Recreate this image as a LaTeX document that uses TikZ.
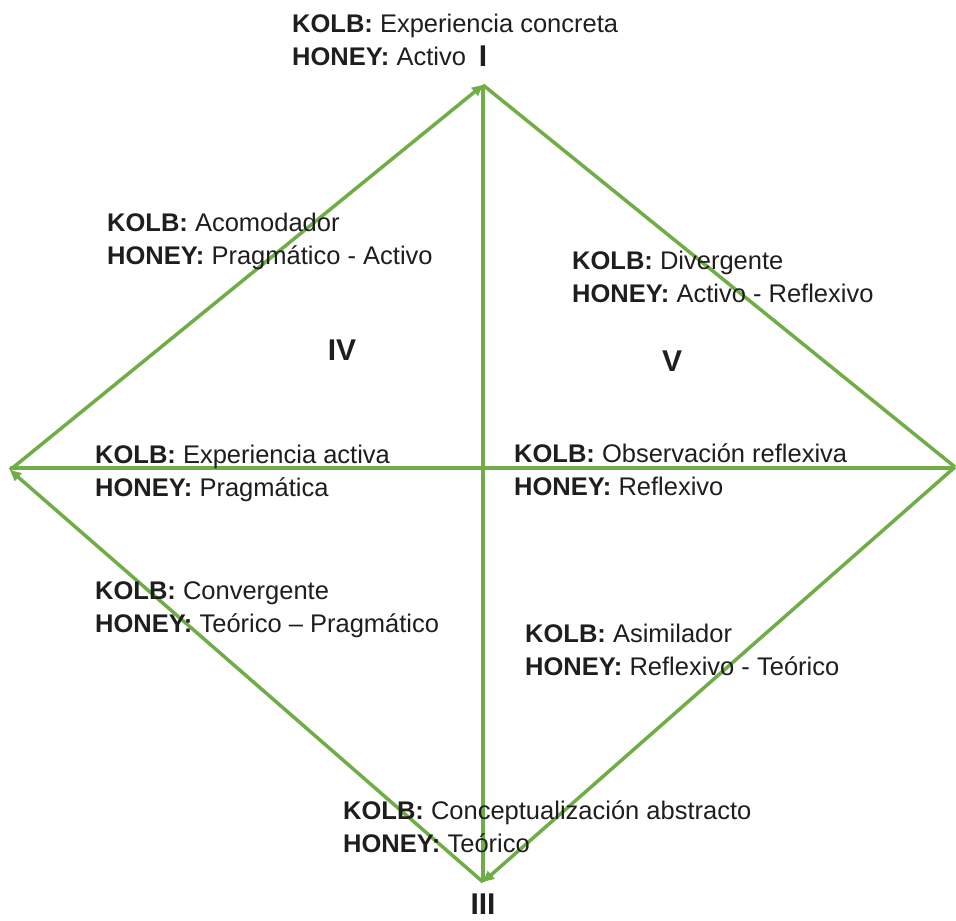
\documentclass[tikz,border=0pt]{standalone}
\usepackage{fontspec}
\setmainfont{Liberation Sans}
\usetikzlibrary{arrows.meta}
\definecolor{edgegreen}{HTML}{70AD47}
\definecolor{inkgray}{HTML}{1E1E1E}
\tikzset{
  edge/.style={draw=edgegreen, line width=3.5pt},
  tip/.style={-{Triangle[length=11pt,width=10pt]}},
  label/.style={anchor=west, align=left, inner sep=0pt, text=inkgray,
    font=\fontsize{25.5}{33}\selectfont},
  numeral/.style={inner sep=0pt, text=inkgray,
    font=\fontsize{30}{32}\selectfont\bfseries}
}
\newcommand{\kh}[2]{\textbf{KOLB:} #1\\\textbf{HONEY:} #2}
\begin{document}
\begin{tikzpicture}[x=1pt,y=-1pt]
\useasboundingbox (0,0) rectangle (956,921);
% corners of the diamond
\coordinate (top) at (483,85);
\coordinate (left) at (10,470);
\coordinate (bottom) at (483,882);
\coordinate (right) at (955,467);
\coordinate (hleft) at (10,468);
\coordinate (hright) at (955,468);

% outline of the cycle
\draw[edge] (top) -- (right);
\draw[edge,tip] (right) -- (bottom);
\draw[edge,tip] (bottom) -- (left);
\draw[edge,tip] (left) -- (top);
% axes
\draw[edge] (bottom) -- (top);
\draw[edge] (hright) -- (hleft);

% labels
\node[label] (lI) at (292,40) {\kh{Experiencia concreta}{Activo}};
\node[numeral] (nI) at (483,56) {I};
\node[label] (lIV) at (107,241) {\kh{Acomodador}{Pragmático - Activo}};
\node[label] (lV) at (572,277) {\kh{Divergente}{Activo - Reflexivo}};
\node[numeral] (nIV) at (342,350) {IV};
\node[numeral] (nV) at (672,361) {V};
\node[label] (lW) at (95,473) {\kh{Experiencia activa}{Pragmática}};
\node[label] (lE) at (514,470) {\kh{Observación reflexiva}{Reflexivo}};
\node[label] (lSW) at (95,610) {\kh{Convergente}{Teórico – Pragmático}};
\node[label] (lSE) at (525,650) {\kh{Asimilador}{Reflexivo - Teórico}};
\node[label] (lS) at (343,827) {\kh{Conceptualización abstracto}{Teórico}};
\node[numeral] (nIII) at (483,904) {III};
\end{tikzpicture}
\end{document}
